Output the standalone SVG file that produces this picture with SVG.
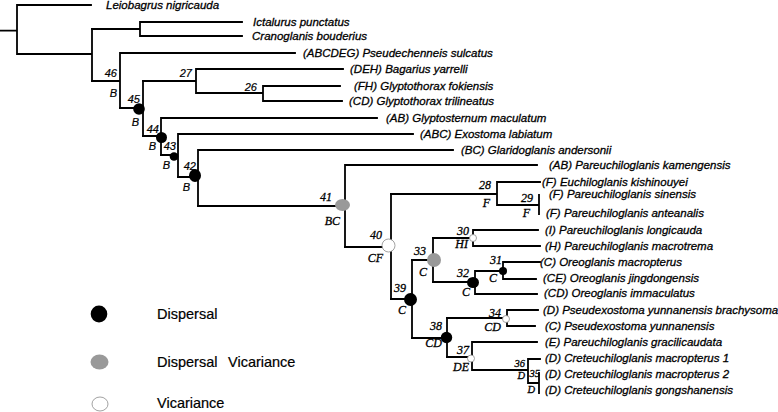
<svg xmlns="http://www.w3.org/2000/svg" width="778" height="412" viewBox="0 0 778 412">
<style>
.sp{font-family:"Liberation Sans",Arial,sans-serif;font-style:italic;font-size:11.5px;fill:#000;stroke:#000;stroke-width:0.3}
.ns{font-family:"Liberation Sans",Arial,sans-serif;font-style:italic;font-size:11px;fill:#000;text-anchor:end;stroke:#000;stroke-width:0.2}
.nr{font-family:"Liberation Serif","Times New Roman",serif;font-style:italic;font-size:12px;fill:#000;text-anchor:end;stroke:#000;stroke-width:0.3}
.nr.s{font-size:10.5px}
.leg{font-family:"Liberation Sans",Arial,sans-serif;font-size:14.5px;fill:#000;stroke:#000;stroke-width:0.2}
.br{fill:none;stroke:#000;stroke-width:1.8;stroke-linecap:square}
.d{fill:#000}
.dv{fill:#999}
.v{fill:#fff;stroke:#8a8a8a;stroke-width:0.8}
</style>
<rect width="778" height="412" fill="#fff"/>
<g id="connectors" class="br">
<path d="M0 30.7H17M17 5V54M17 5H91M17 54H92M92 29V81"/>
<path d="M92 29H140M140 22V36M140 22H242M140 36H242"/>
<path d="M92 81H120M120 53V108M120 53H295"/>
<path d="M120 108H143M143 81V136"/>
<path d="M143 81H196M196 69V93M196 69H343M196 93H263M263 86V101M263 86H340M263 101H342"/>
<path d="M143 136H161M161 118V155M161 118H377"/>
<path d="M161 155H178M178 134V177M178 134H413"/>
<path d="M178 177H198M198 150V206M198 150H453"/>
<path d="M198 206H345M345 165V247M345 165H537"/>
<path d="M345 247H391M391 194V299"/>
<path d="M391 194H497M497 182V205M497 182H540M497 205H539M539 195V214"/>
<path d="M391 299H412M412 260V338"/>
<path d="M412 260H433M433 238V282"/>
<path d="M433 238H473M473 230V246M473 230H538M473 246H540"/>
<path d="M433 282H475M475 271V294M475 271H503M503 262V279M503 262H540M503 279H536M475 294H537"/>
<path d="M412 338H447M447 318V357"/>
<path d="M447 318H507M507 310V326M507 310H538M507 326H535"/>
<path d="M447 357H472M472 342V370M472 342H537M472 370H528M528 359V383M528 359H540M528 383H539M539 373V393"/>
</g>
<g id="tip-leiobagrus"><text class="sp" x="106" y="9">Leiobagrus nigricauda</text></g>
<g id="tip-ictalurus"><text class="sp" x="253" y="26">Ictalurus punctatus</text></g>
<g id="tip-cranoglanis"><text class="sp" x="252" y="40">Cranoglanis bouderius</text></g>
<g id="tip-pseudechenneis"><text class="sp" x="303" y="57">(ABCDEG) Pseudechenneis sulcatus</text></g>
<g id="tip-bagarius"><text class="sp" x="350" y="73">(DEH) Bagarius yarrelli</text></g>
<g id="tip-gfokiensis"><text class="sp" x="354" y="90">(FH) Glyptothorax fokiensis</text></g>
<g id="tip-gtrilineatus"><text class="sp" x="349" y="105">(CD) Glyptothorax trilineatus</text></g>
<g id="tip-glyptosternum"><text class="sp" x="386" y="122">(AB) Glyptosternum maculatum</text></g>
<g id="tip-exostoma"><text class="sp" x="420" y="138">(ABC) Exostoma labiatum</text></g>
<g id="tip-glaridoglanis"><text class="sp" x="461" y="154">(BC) Glaridoglanis andersonii</text></g>
<g id="tip-pkamengensis"><text class="sp" x="549" y="169">(AB) Pareuchiloglanis kamengensis</text></g>
<g id="tip-euchiloglanis"><text class="sp" x="542" y="186">(F) Euchiloglanis kishinouyei</text></g>
<g id="tip-psinensis"><text class="sp" x="549" y="198">(F) Pareuchiloglanis sinensis</text></g>
<g id="tip-panteanalis"><text class="sp" x="546" y="217">(F) Pareuchiloglanis anteanalis</text></g>
<g id="tip-plongicauda"><text class="sp" x="545" y="234">(I) Pareuchiloglanis longicauda</text></g>
<g id="tip-pmacrotrema"><text class="sp" x="545" y="250">(H) Pareuchiloglanis macrotrema</text></g>
<g id="tip-omacropterus"><text class="sp" x="540" y="266">(C) Oreoglanis macropterus</text></g>
<g id="tip-ojingdongensis"><text class="sp" x="543" y="282">(CE) Oreoglanis jingdongensis</text></g>
<g id="tip-oimmaculatus"><text class="sp" x="544" y="297">(CD) Oreoglanis immaculatus</text></g>
<g id="tip-pybrachysoma"><text class="sp" x="543" y="314">(D) Pseudexostoma yunnanensis brachysoma</text></g>
<g id="tip-pyunnanensis"><text class="sp" x="545" y="330">(C) Pseudexostoma yunnanensis</text></g>
<g id="tip-pgracilicaudata"><text class="sp" x="545" y="346">(E) Pareuchiloglanis gracilicaudata</text></g>
<g id="tip-cmacropterus1"><text class="sp" x="545" y="362">(D) Creteuchiloglanis macropterus 1</text></g>
<g id="tip-cmacropterus2"><text class="sp" x="545" y="378">(D) Creteuchiloglanis macropterus 2</text></g>
<g id="tip-cgongshanensis"><text class="sp" x="545" y="394">(D) Creteuchiloglanis gongshanensis</text></g>
<g id="node46"><text class="ns" x="117" y="77">46</text><text class="ns" x="117" y="97">B</text></g>
<g id="node27"><text class="ns" x="192" y="77">27</text></g>
<g id="node26"><text class="ns" x="257" y="91">26</text></g>
<g id="node45"><circle class="d" cx="139" cy="109" r="5.8"/><text class="ns" x="140" y="103">45</text><text class="ns" x="139" y="126">B</text></g>
<g id="node44"><circle class="d" cx="161.5" cy="137.5" r="5.5"/><text class="ns" x="159" y="133">44</text><text class="ns" x="156" y="150">B</text></g>
<g id="node43"><circle class="d" cx="174" cy="156.5" r="4.3"/><text class="ns" x="176" y="150">43</text><text class="ns" x="170" y="169">B</text></g>
<g id="node42"><ellipse class="d" cx="195" cy="175.5" rx="6" ry="6.5"/><text class="ns" x="196" y="170">42</text><text class="ns" x="190" y="191">B</text></g>
<g id="node41"><ellipse class="dv" cx="342.5" cy="205" rx="7.5" ry="6"/><text class="nr" x="332" y="201">41</text><text class="nr" x="340" y="225">BC</text></g>
<g id="node40"><circle class="v" cx="388.5" cy="245.5" r="6.5"/><text class="nr" x="382" y="239">40</text><text class="nr" x="383" y="262">CF</text></g>
<g id="node28"><text class="nr" x="491" y="189">28</text><text class="nr" x="490" y="207">F</text></g>
<g id="node29"><text class="nr" x="533" y="202">29</text><text class="nr" x="530" y="217">F</text></g>
<g id="node39"><circle class="d" cx="410.5" cy="299.5" r="6.5"/><text class="nr" x="406" y="292">39</text><text class="nr" x="406" y="314">C</text></g>
<g id="node33"><circle class="dv" cx="434" cy="260" r="7"/><text class="nr" x="426" y="255">33</text><text class="nr" x="427" y="276">C</text></g>
<g id="node30"><circle class="v" cx="473" cy="238" r="3.5"/><text class="nr" x="469" y="235">30</text><text class="nr" x="468" y="248">HI</text></g>
<g id="node32"><ellipse class="d" cx="473" cy="282.5" rx="6" ry="5.5"/><text class="nr" x="469" y="277">32</text><text class="nr" x="470" y="296">C</text></g>
<g id="node31"><circle class="d" cx="503" cy="271" r="4"/><text class="nr" x="502" y="264">31</text><text class="nr" x="497" y="282">C</text></g>
<g id="node38"><circle class="d" cx="446.5" cy="337.5" r="5.7"/><text class="nr" x="442" y="330">38</text><text class="nr" x="442" y="347">CD</text></g>
<g id="node34"><circle class="v" cx="506" cy="319" r="3.5"/><text class="nr" x="501" y="317">34</text><text class="nr" x="501" y="331">CD</text></g>
<g id="node37"><circle class="v" cx="471" cy="358.5" r="3.5"/><text class="nr" x="469" y="354">37</text><text class="nr" x="469" y="371">DE</text></g>
<g id="node36"><text class="nr s" x="525" y="366.5">36</text><text class="nr s" x="525" y="379">D</text></g>
<g id="node35"><text class="nr s" x="540" y="377">35</text><text class="nr s" x="535" y="393">D</text></g>
<g id="legend">
<ellipse class="d" cx="99" cy="314" rx="8.3" ry="8.5"/>
<text class="leg" x="157" y="319">Dispersal</text>
<ellipse class="dv" cx="99.5" cy="362" rx="9" ry="7.5"/>
<text class="leg" x="157" y="367">Dispersal<tspan x="228">Vicariance</tspan></text>
<ellipse class="v" cx="100" cy="404" rx="8" ry="7"/>
<text class="leg" x="157" y="408">Vicariance</text>
</g>
</svg>
